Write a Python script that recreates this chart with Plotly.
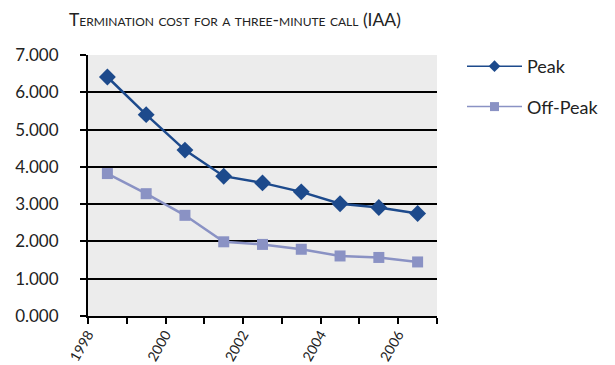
import plotly.graph_objects as go

# Termination cost per three-minute call, by year
years = [1998.5, 1999.5, 2000.5, 2001.5, 2002.5, 2003.5, 2004.5, 2005.5, 2006.5]
peak = [6.41, 5.40, 4.45, 3.75, 3.57, 3.33, 3.01, 2.91, 2.75]
off_peak = [3.82, 3.28, 2.70, 1.99, 1.92, 1.79, 1.61, 1.57, 1.45]
series_names = ["Peak", "Off-Peak"]

tick_vals = [1998, 1999, 2000, 2001, 2002, 2003, 2004, 2005, 2006, 2007]
tick_text = ["1998", "", "2000", "", "2002", "", "2004", "", "2006", ""]
y_ticks = [0, 1, 2, 3, 4, 5, 6, 7]
y_text = ["0.000", "1.000", "2.000", "3.000", "4.000", "5.000", "6.000", "7.000"]

PEAK_COLOR = "#1d4a8c"
OFF_COLOR = "#8a92c4"
FONT = "Lato"
TEXT_COLOR = "#222222"

fig = go.Figure()
fig.add_trace(go.Scatter(
    x=years, y=peak, name=series_names[0], mode="lines+markers",
    line=dict(color=PEAK_COLOR, width=2.5),
    marker=dict(symbol="diamond", size=13, color=PEAK_COLOR),
    showlegend=False,
))
fig.add_trace(go.Scatter(
    x=years, y=off_peak, name=series_names[1], mode="lines+markers",
    line=dict(color=OFF_COLOR, width=2.5),
    marker=dict(symbol="square", size=11, color=OFF_COLOR),
    showlegend=False,
))

# Legend entries with smaller keys
for name, color, symbol in [(series_names[0], PEAK_COLOR, "diamond"),
                            (series_names[1], OFF_COLOR, "square")]:
    fig.add_trace(go.Scatter(
        x=[None], y=[None], name=name, mode="lines+markers",
        line=dict(color=color, width=1.5),
        marker=dict(symbol=symbol, size=9, color=color),
        legendgroup=name, showlegend=True,
    ))

fig.update_layout(
    width=615, height=365,
    margin=dict(l=88, r=178, t=55, b=49),
    paper_bgcolor="white",
    plot_bgcolor="#ececec",
    font=dict(family=FONT, size=15, color=TEXT_COLOR),
    title=dict(
        text="Termination cost for a three-minute call (IAA)",
        x=69 / 615, xanchor="left", xref="container",
        y=1 - 20 / 365, yanchor="middle", yref="container",
        font=dict(family=FONT, size=17.5, color=TEXT_COLOR, variant="small-caps"),
    ),
    legend=dict(
        xref="container", yref="container",
        x=462 / 615, xanchor="left", y=1 - 48 / 365, yanchor="top",
        font=dict(family=FONT, size=18, color=TEXT_COLOR),
        tracegroupgap=14, itemwidth=55,
        bgcolor="rgba(0,0,0,0)",
    ),
    showlegend=True,
)

fig.update_xaxes(
    range=[1998, 2007],
    tickmode="array", tickvals=tick_vals, ticktext=tick_text,
    tickangle=-60,
    ticks="outside", ticklen=6, tickwidth=2, tickcolor="black",
    ticklabelposition="outside", ticklabelstandoff=-3,
    showline=True, linecolor="black", linewidth=2,
    showgrid=False, zeroline=False, automargin=False,
    tickfont=dict(family=FONT, size=14, color=TEXT_COLOR),
)
fig.update_yaxes(
    range=[0, 7],
    tickmode="array", tickvals=y_ticks, ticktext=y_text,
    ticks="outside", ticklen=6, tickwidth=2, tickcolor="black",
    ticklabelposition="outside", ticklabelstandoff=18,
    showline=True, linecolor="black", linewidth=2,
    showgrid=True, gridcolor="black", gridwidth=2,
    zeroline=False, automargin=False,
    tickfont=dict(family=FONT, size=17, color=TEXT_COLOR),
)

fig.write_html("out.html")
